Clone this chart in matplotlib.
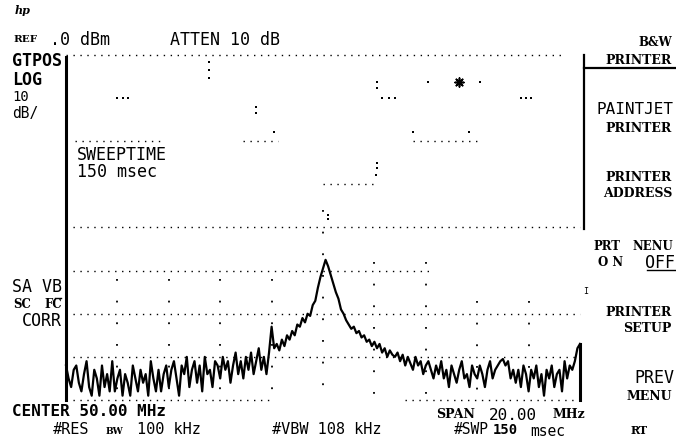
import numpy as np
import matplotlib
matplotlib.use('Agg')
import matplotlib.pyplot as plt

# Spectrum analyser screen: center 50 MHz, span 20 MHz, ref 0 dBm, 10 dB/div
f_start, f_stop = 40.0, 60.0
ref_level, bottom_level = 0, -80

# trace values (dBm), 201 points across the span
trace = [
    -72, -75, -77, -73, -72, -76, -78, -74, -71, -77,
    -79, -73, -75, -79, -72, -77, -74, -78, -71, -78,
    -75, -73, -79, -74, -76, -79, -72, -75, -78, -73,
    -76, -74, -79, -71, -75, -78, -73, -78, -74, -72,
    -77, -73, -71, -75, -79, -72, -74, -70, -77, -73,
    -71, -76, -72, -78, -70, -74, -73, -77, -71, -72,
    -75, -70, -73, -71, -76, -72, -69, -74, -71, -75,
    -70, -73, -69, -74, -71, -68, -73, -70, -74, -69,
    -63, -68, -67, -68.5, -66, -67.5, -65, -66, -64, -65,
    -62.5, -63, -61, -62, -60, -60.5, -58, -57, -54, -51.5,
    -49.5, -47.5, -49, -51, -53, -55, -56.5, -59, -60, -61.5,
    -62.5, -63.5, -63, -64.5, -64, -65.5, -65, -66.5, -66, -67.5,
    -66.5, -68, -67, -69, -68, -70, -68.5, -69.5, -70, -69,
    -71, -69.5, -72, -70, -71.5, -73, -70, -72, -71, -74,
    -72, -71, -73, -75, -72, -74, -71, -75, -73, -77,
    -72, -74, -76, -73, -71, -75, -74, -77, -72, -74,
    -75, -72, -74, -77, -73, -71, -75, -73, -72, -71,
    -70.5, -72, -71, -75, -73, -76, -73, -77, -72, -74,
    -78, -73, -75, -72, -77, -74, -79, -73, -75, -72,
    -77, -74, -73, -78, -71, -75, -72, -73, -71, -68,
    -67,
]
freqs = np.linspace(f_start, f_stop, len(trace))

# dotted graticule lines (level dB, from MHz, to MHz) - the display is patchy
h_lines = [
    (0, 40.0, 59.3),
    (-20, 40.35, 43.85), (-20, 46.9, 48.25), (-20, 53.5, 56.2),
    (-30, 50.0, 52.1),
    (-40, 40.0, 60.0),
    (-50, 40.0, 54.2),
    (-60, 40.0, 60.0),
    (-70, 40.0, 60.0),
    (-80, 40.0, 48.1), (-80, 53.2, 60.0),
]
v_lines = [
    (42, -52, -80), (44, -52, -80), (46, -52, -80), (48, -52, -80),
    (50, -36, -80), (52, -48, -80), (54, -48, -80), (56, -57, -80),
    (58, -57, -78),
]
# stray graticule dots in the upper part of the screen (MHz, dB)
stray_x = [42.0, 42.2, 42.4, 52.3, 52.55, 52.8, 57.7, 57.9, 58.1,
           45.56, 45.56, 45.56, 47.4, 47.4, 48.1, 52.1, 52.1, 54.1, 56.1,
           53.5, 55.7, 52.1, 52.1, 52.05, 50.2, 50.2]
stray_y = [-10, -10, -10, -10, -10, -10, -10, -10, -10,
           -1.6, -3.5, -5.3, -12, -13.4, -17.9, -6.3, -7.7, -6.3, -6.3,
           -17.9, -17.9, -25, -26.2, -27.8, -37.1, -38]

W, H = 676, 438
fig = plt.figure(figsize=(W / 100, H / 100), dpi=100)
fig.patch.set_facecolor('white')

x0, x1, y0, y1 = 66, 580, 55, 400
ax = fig.add_axes([x0 / W, 1 - y1 / H, (x1 - x0) / W, (y1 - y0) / H])
ax.set_xlim(f_start, f_stop)
ax.set_ylim(bottom_level, ref_level)
ax.axis('off')

for lev, a, b in h_lines:
    ax.plot([a, b], [lev, lev], color='black', lw=1.0, ls=(0, (1, 4)),
            clip_on=False)
for f, a, b in v_lines:
    ax.plot([f, f], [a, b], color='black', lw=1.3, ls=(0, (1, 11)),
            clip_on=False)
ax.scatter(stray_x, stray_y, s=3, color='black', marker='s', lw=0)
ax.scatter([55.3], [-6.3], s=40, color='black', marker=(8, 2, 0), lw=1.2)

ax.plot(freqs, trace, color='black', lw=1.6, clip_on=False)

# frame pieces
ax.plot([f_start, f_start], [-0.5, -80], color='black', lw=2.2, clip_on=False)
ax.plot([60.0, 60.0], [-67, -80], color='black', lw=2.2, clip_on=False)


def px(x, y):
    return x / W, 1 - y / H


def hline(xa, xb, y, lw=1.6):
    fig.add_artist(plt.Line2D([xa / W, xb / W], [1 - y / H, 1 - y / H],
                              color='black', lw=lw))


# right hand menu frame
fig.add_artist(plt.Line2D([584 / W, 584 / W], [1 - 55 / H, 1 - 229 / H],
                          color='black', lw=1.6))
hline(584, 675, 68)

mono = 'DejaVu Sans Mono'
serif = 'DejaVu Serif'


def mtext(x, y, s, size=12, ha='left', weight='normal'):
    fig.text(*px(x, y), s, family=mono, fontsize=size, ha=ha, va='center',
             weight=weight)


def stext(x, y, s, size=9, ha='left'):
    fig.text(*px(x, y), s, family=serif, fontsize=size, ha=ha, va='center',
             weight='bold')


# top annotations
fig.text(*px(15, 11), 'hp', family=serif, fontsize=8, style='italic',
         weight='bold', va='center')
stext(13, 40, 'REF', size=7.5)
mtext(50, 40, '.0 dBm')
mtext(170, 40, 'ATTEN 10 dB')

# left annotations
mtext(12, 61, 'GTPOS', weight='bold')
mtext(12, 80, 'LOG', weight='bold')
mtext(12, 97, '10', size=10)
mtext(12, 113, 'dB/', size=10.5)
mtext(12, 287, 'SA VB')
stext(13, 305, 'SC', size=8.5)
stext(44, 305, 'FC', size=8.5)
hline(55, 61, 298, lw=1)
mtext(22, 321, 'CORR')

mtext(77, 155, 'SWEEPTIME')
mtext(77, 172, '150 msec')

# bottom annotations
mtext(12, 411, 'CENTER 50.00 MHz', weight='bold', size=11.5)
stext(436, 415, 'SPAN')
mtext(489, 415, '20.00', size=11.5)
stext(553, 415, 'MHz')
mtext(53, 430, '#RES', size=11)
stext(106, 431, 'BW', size=6.5)
mtext(137, 430, '100 kHz', size=11)
mtext(272, 430, '#VBW 108 kHz', size=11)
mtext(454, 430, '#SWP', size=10.5)
mtext(493, 430, '150', size=10, weight='bold')
mtext(530, 431, 'msec', size=10.5)
stext(631, 431, 'RT', size=8)

# softkey labels
stext(672, 43, 'B&W', ha='right', size=8.5)
stext(672, 60, 'PRINTER', ha='right')
mtext(674, 109, 'PAINTJET', ha='right', size=11.5)
stext(672, 128, 'PRINTER', ha='right')
stext(672, 178, 'PRINTER', ha='right')
stext(672, 194, 'ADDRESS', ha='right')
stext(593, 246, 'PRT', size=8.5)
stext(673, 246, 'NENU', ha='right', size=8.5)
stext(598, 263, 'O N', size=8.5)
mtext(675, 263, 'OFF', ha='right')
hline(647, 675, 270, lw=1)
mtext(583, 292, 'I', size=6)
stext(672, 312, 'PRINTER', ha='right')
stext(672, 329, 'SETUP', ha='right')
mtext(674, 378, 'PREV', ha='right')
stext(672, 397, 'MENU', ha='right')

fig.savefig('out.png', dpi=100, facecolor='white')
